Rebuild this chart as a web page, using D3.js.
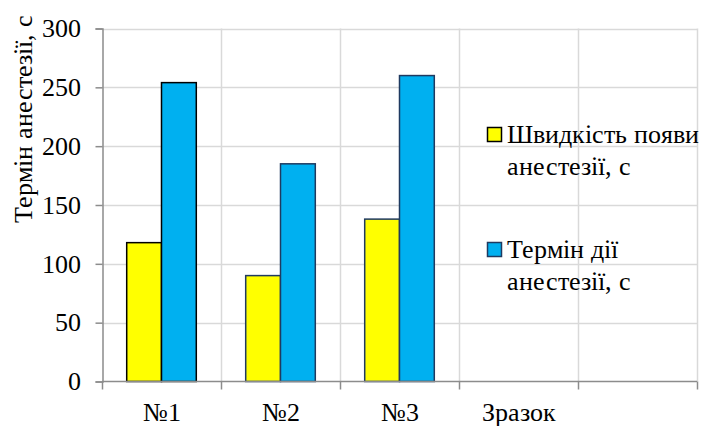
<!DOCTYPE html>
<html>
<head>
<meta charset="utf-8">
<script src="https://cdn.jsdelivr.net/npm/d3@7"></script>
<style>
  @font-face {
    font-family: "ChartSerif";
    src: local("Liberation Serif"), local("LiberationSerif"), local("LiberationSerif-Regular"), local("Times New Roman");
  }
  body { margin: 0; background: #fff; }
</style>
</head>
<body>
<svg id="anesthesia" width="705" height="426"></svg>
<script>
// Categories (the last band is left empty, as in the source sheet)
const categories = ["№1", "№2", "№3", "Зразок", ""];
const seriesNames = ["Швидкість появи анестезії, с", "Термін дії анестезії, с"];
const onsetValues = [118, 90, 138, null, null];
const durationValues = [254, 185, 260, null, null];
const yTicks = [0, 50, 100, 150, 200, 250, 300];

const FONT = "ChartSerif, 'Times New Roman', Tinos, serif";
const FS = 26;
const colors = ["#ffff00", "#00b0f0"];
const strokes = ["#000", "#1f3a60"];
const svg = d3.select("#anesthesia").attr("font-family", FONT);
const m = { left: 102, right: 8, top: 28.5, bottom: 44.5 };
const W = 705, H = 426;

const x = d3.scaleBand().domain(categories.map((c, i) => i))
  .range([m.left, W - m.right]).paddingInner(0).paddingOuter(0);
const y = d3.scaleLinear().domain([0, 300]).range([H - m.bottom, m.top]);
const xInner = d3.scaleBand().domain([0, 1]).range([0, x.bandwidth()]).paddingOuter(0.71).paddingInner(0);

// Serif text helper
const serif = sel => sel.attr("font-family", FONT).style("font-family", FONT).attr("font-size", FS);

// Gridlines
const grid = svg.append("g");
grid.selectAll("line.h").data(yTicks.slice(1)).join("line")
  .attr("x1", m.left).attr("x2", W - m.right)
  .attr("y1", d => Math.round(y(d)) + 0.5).attr("y2", d => Math.round(y(d)) + 0.5)
  .attr("stroke", "#d9d9d9").attr("stroke-width", 1.5);
const vBounds = categories.map((c, i) => x(i)).slice(1).concat([W - m.right]);
grid.selectAll("line.v").data(vBounds).join("line")
  .attr("x1", d => d + 0.5).attr("x2", d => d + 0.5)
  .attr("y1", m.top).attr("y2", y(0))
  .attr("stroke", "#d9d9d9").attr("stroke-width", 1.5);

// Bars
const rows = categories.map((c, i) => ({ i, vals: [onsetValues[i], durationValues[i]] }));
const groups = svg.append("g").selectAll("g").data(rows).join("g")
  .attr("transform", d => `translate(${x(d.i)},0)`);
groups.selectAll("rect").data(d => d.vals.map((v, s) => ({ v, s, i: d.i })).filter(e => e.v != null))
  .join("rect")
  .attr("x", e => xInner(e.s))
  .attr("width", xInner.bandwidth())
  .attr("y", e => y(e.v))
  .attr("height", e => y(0) - y(e.v))
  .attr("fill", e => colors[e.s])
  .attr("stroke", e => e.i === 0 ? strokes[0] : strokes[1])
  .attr("stroke-width", 1.5);

// Y axis
const yAxis = svg.append("g").attr("transform", `translate(${m.left + 0.5},0)`)
  .call(d3.axisLeft(y).tickValues(yTicks).tickSize(7).tickPadding(15));
yAxis.attr("font-family", FONT).attr("font-size", FS);
yAxis.select(".domain").attr("stroke", "#8c8c8c").attr("stroke-width", 1.5);
yAxis.selectAll(".tick line").attr("stroke", "#8c8c8c").attr("stroke-width", 1.5);
yAxis.selectAll("text").call(serif).attr("fill", "#000");

// X axis
const xAxisG = svg.append("g").attr("transform", `translate(0,${y(0)})`);
xAxisG.append("line").attr("x1", m.left).attr("x2", W - m.right)
  .attr("stroke", "#8c8c8c").attr("stroke-width", 1.5);
const boundaries = categories.map((c, i) => x(i)).concat([W - m.right]);
xAxisG.selectAll("line.t").data(boundaries).join("line")
  .attr("x1", d => d + 0.5).attr("x2", d => d + 0.5).attr("y1", 0).attr("y2", 8)
  .attr("stroke", "#8c8c8c").attr("stroke-width", 1.5);
xAxisG.selectAll("text").data(categories).join("text")
  .attr("x", (c, i) => x(i) + x.bandwidth() / 2)
  .attr("y", 39)
  .attr("text-anchor", "middle")
  .call(serif).text(c => c);

// Y axis title
svg.append("text")
  .attr("transform", "translate(32,119) rotate(-90)")
  .attr("text-anchor", "middle")
  .call(serif)
  .text("Термін анестезії, с");

// Legend
const legendLines = [["Швидкість появи", "анестезії, с"], ["Термін дії", "анестезії, с"]];
const legend = svg.append("g");
const legendBase = [143, 258];
legendLines.forEach((lines, s) => {
  legend.append("rect").attr("x", 487.5).attr("y", legendBase[s] - 15.5)
    .attr("width", 14).attr("height", 14)
    .attr("fill", colors[s]).attr("stroke", strokes[s]).attr("stroke-width", 1.5);
  lines.forEach((t, k) => {
    legend.append("text").attr("x", 507).attr("y", legendBase[s] + k * 31.5)
      .call(serif).text(t);
  });
});
</script>
</body>
</html>
